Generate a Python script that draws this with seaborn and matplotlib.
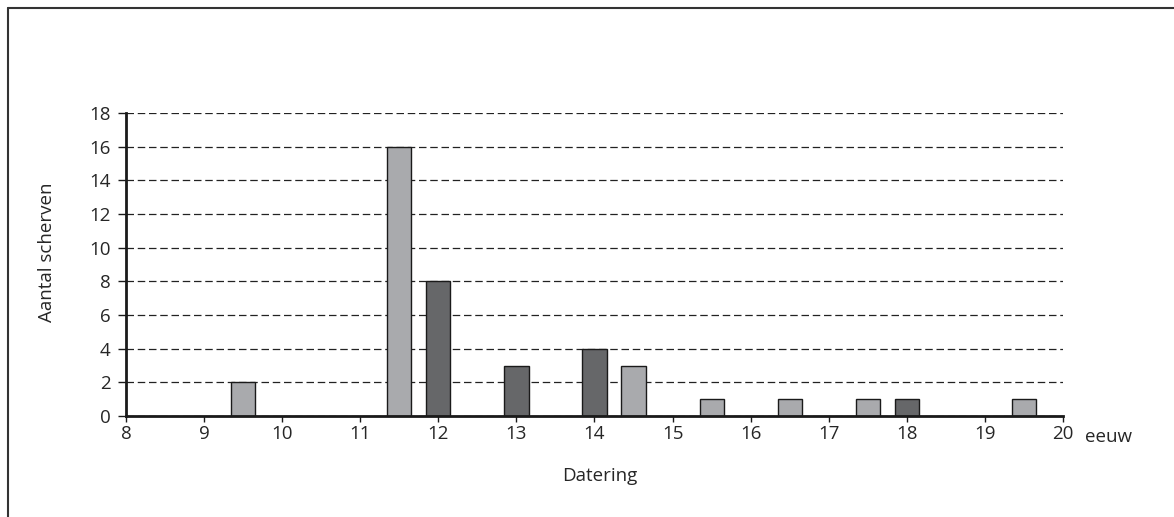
import pandas as pd
import matplotlib.pyplot as plt
import seaborn as sns
from matplotlib.lines import Line2D

# Datering (eeuw) en aantal scherven
eeuw = [9.5, 11.5, 12, 13, 14, 14.5, 15.5, 16.5, 17.5, 18, 19.5]
aantal = [2, 16, 8, 3, 4, 3, 1, 1, 1, 1, 1]
groep = ["licht", "licht", "donker", "donker", "donker", "licht",
         "licht", "licht", "licht", "donker", "licht"]

df = pd.DataFrame({"eeuw": eeuw, "aantal": aantal, "groep": groep})

sns.set_style("white")
plt.rcParams["font.family"] = ["Open Sans", "DejaVu Sans"]
fs = 13.5

fig = plt.figure(figsize=(11.74, 5.17), dpi=100)
ax = fig.add_axes([126 / 1174, 1 - 416 / 517, (1063 - 126) / 1174, (416 - 113) / 517])

sns.barplot(data=df, x="eeuw", y="aantal", hue="groep", dodge=False,
            native_scale=True, width=0.62, legend=False,
            palette={"licht": "#a9aaad", "donker": "#666769"},
            edgecolor="#1a1a1a", linewidth=1.0, saturation=1, ax=ax)

ax.set_xlim(8, 20)
ax.set_ylim(0, 18)
ax.set_xticks(range(8, 21))
ax.set_yticks(range(0, 19, 2))
ax.set_axisbelow(True)
ax.yaxis.grid(True, color="#222222", linestyle=(0, (6, 3)), linewidth=0.9)
ax.xaxis.grid(False)

for s in ["top", "right"]:
    ax.spines[s].set_visible(False)
for s in ["left", "bottom"]:
    ax.spines[s].set_linewidth(2)
    ax.spines[s].set_color("#1a1a1a")

ax.tick_params(axis="both", labelsize=fs, width=1, color="#1a1a1a",
               direction="out", bottom=True, left=True)
ax.tick_params(axis="y", length=6, pad=5)
ax.tick_params(axis="x", length=4.5, pad=2)
ax.set_xlabel("")
ax.set_ylabel("")

fig.text(47 / 1174, 1 - 252 / 517, "Aantal scherven", rotation=90,
         ha="center", va="center", fontsize=fs)
fig.text(600 / 1174, 1 - 476 / 517, "Datering", ha="center", va="center", fontsize=fs)
fig.text(1085 / 1174, 1 - 437 / 517, "eeuw", ha="left", va="center", fontsize=fs)

# kader
fig.add_artist(Line2D([8 / 1174, 1], [1 - 8 / 517, 1 - 8 / 517],
                      transform=fig.transFigure, color="#333333", linewidth=1.5))
fig.add_artist(Line2D([8 / 1174, 8 / 1174], [1 - 8 / 517, 0],
                      transform=fig.transFigure, color="#333333", linewidth=1.5))

fig.savefig("out.png", dpi=100)
